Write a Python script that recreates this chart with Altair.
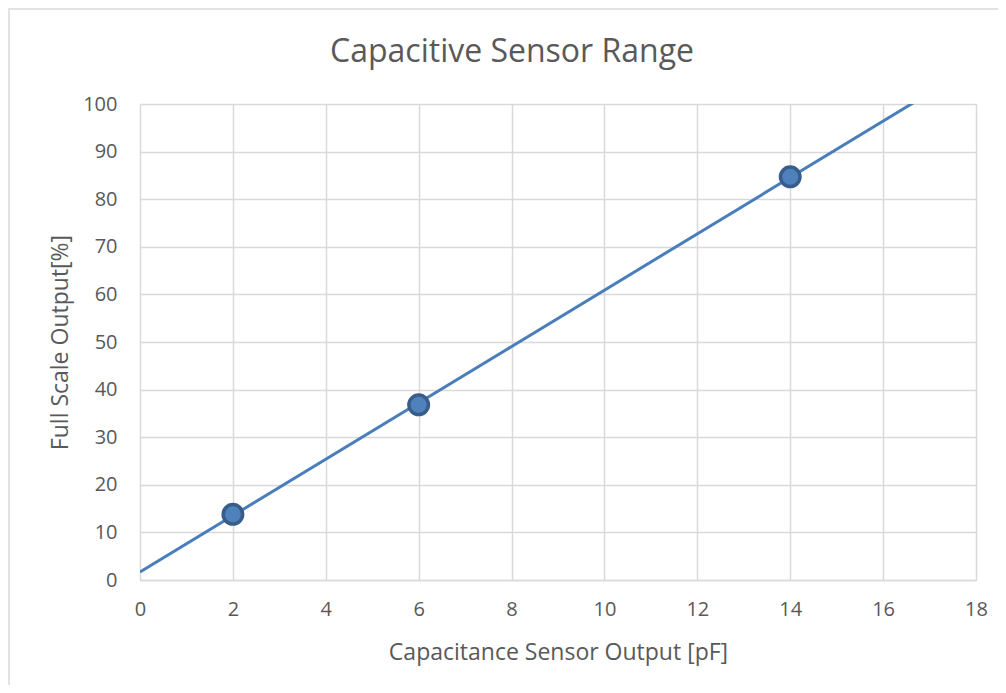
import altair as alt
import pandas as pd

# Data
capacitance_pf = [2, 6, 14]
full_scale_pct = [13.8, 36.8, 84.7]

x_ticks = [0, 2, 4, 6, 8, 10, 12, 14, 16, 18]
y_ticks = [0, 10, 20, 30, 40, 50, 60, 70, 80, 90, 100]

df = pd.DataFrame({"x": capacitance_pf, "y": full_scale_pct})

TEXT = "#595959"
GRID = "#D9D9D9"
FONT = "Open Sans"

W, H = 836, 476

x_enc = alt.X(
    "x:Q",
    scale=alt.Scale(domain=[0, 18], nice=False, zero=False),
    axis=alt.Axis(
        values=x_ticks,
        title="Capacitance Sensor Output [pF]",
        grid=True,
        gridColor=GRID,
        gridWidth=1.5,
        ticks=False,
        tickSize=0,
        domainColor=GRID,
        domainWidth=1.5,
        labelFlush=False,
        labelPadding=19,
        labelFontSize=20,
        labelColor=TEXT,
        labelFont=FONT,
        titleFont=FONT,
        titleFontSize=23,
        titleFontWeight="normal",
        titleColor=TEXT,
        titleBaseline="middle",
        titleY=72,
    ),
)
y_enc = alt.Y(
    "y:Q",
    scale=alt.Scale(domain=[0, 100], nice=False, zero=False),
    axis=alt.Axis(
        values=y_ticks,
        title="Full Scale Output[%]",
        grid=True,
        gridColor=GRID,
        gridWidth=1.5,
        ticks=False,
        tickSize=0,
        domain=False,
        labelFlush=False,
        labelPadding=23,
        labelFontSize=20,
        labelColor=TEXT,
        labelFont=FONT,
        titleFont=FONT,
        titleFontSize=23,
        titleFontWeight="normal",
        titleColor=TEXT,
        titleBaseline="middle",
        titleX=-80,
    ),
)

border = alt.Chart(pd.DataFrame({"b": [0]})).mark_rect(
    fill=None, stroke=GRID, strokeWidth=1.5, clip=False
).encode(
    x=alt.value(-131),
    x2=alt.value(900),
    y=alt.value(-95),
    y2=alt.value(700),
)

trend = alt.Chart(df).transform_regression(
    "x", "y", extent=[0, 18]
).mark_line(color="#4A7EBB", strokeWidth=3, clip=True).encode(
    x=x_enc, y=y_enc
)

points = alt.Chart(df).mark_point(
    filled=True, fill="#4F81BD", stroke="#385D8A", strokeWidth=3.5,
    size=380, opacity=1, shape="circle"
).encode(x=x_enc, y=y_enc)

chart = alt.layer(border, trend, points).properties(
    width=W,
    height=H,
    autosize=alt.AutoSizeParams(type="none"),
    padding={"left": 132, "top": 96, "right": 22, "bottom": 105},
    title=alt.TitleParams(
        "Capacitive Sensor Range",
        anchor="middle",
        frame="group",
        dx=-46,
        offset=0,
        dy=76,
        baseline="middle",
        fontSize=32,
        font=FONT,
        fontWeight="normal",
        color=TEXT,
    ),
).configure_view(stroke=None).configure(background="white")

chart.save("out.html", embed_options={"renderer": "svg", "actions": False})
